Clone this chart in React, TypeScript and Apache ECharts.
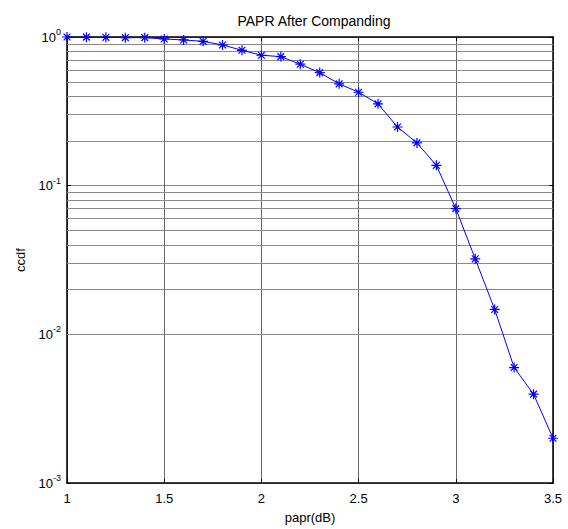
import React, { useEffect, useRef } from "react";
import * as echarts from "echarts";

const papr: number[] = [1.0, 1.1, 1.2, 1.3, 1.4, 1.5, 1.6, 1.7, 1.8, 1.9, 2.0, 2.1, 2.2, 2.3, 2.4, 2.5, 2.6, 2.7, 2.8, 2.9, 3.0, 3.1, 3.2, 3.3, 3.4, 3.5];
const ccdf: number[] = [1.0, 0.998, 0.995, 0.99, 0.99, 0.97, 0.955, 0.935, 0.884, 0.814, 0.754, 0.738, 0.656, 0.576, 0.484, 0.425, 0.355, 0.248, 0.194, 0.137, 0.0701, 0.0322, 0.0147, 0.00598, 0.00396, 0.002];
const decades: number[] = [-3, -2, -1];
const mantissas: number[] = [2, 3, 4, 5, 6, 7, 8, 9];

const FONT = "'Liberation Sans', Arial, Helvetica, sans-serif";
const ASTERISK = "path://M5,0L5,10M0,5L10,5M1.6,1.6L8.4,8.4M1.6,8.4L8.4,1.6";

export default function App() {
  const ref = useRef<HTMLDivElement>(null);
  useEffect(() => {
    if (!ref.current) return;
    const chart = echarts.init(ref.current, null, { renderer: "svg" });
    const minorLines: any[] = [];
    decades.forEach((e) => mantissas.forEach((m) => minorLines.push({ yAxis: m * Math.pow(10, e) })));
    const gridColor = "#8a8a8a";
    chart.setOption({
      animation: false,
      backgroundColor: "#fff",
      title: {
        text: "PAPR After Companding",
        left: 309,
        textAlign: "center",
        top: 9,
        textStyle: { fontFamily: FONT, fontSize: 14, fontWeight: "normal", color: "#000" },
      },
      grid: { left: 67, right: 15, top: 37, bottom: 45, containLabel: false },
      xAxis: [
        {
          type: "value",
          min: 1,
          max: 3.5,
          interval: 0.5,
          name: "papr(dB)",
          nameLocation: "middle",
          nameGap: 28,
          nameTextStyle: { fontFamily: FONT, fontSize: 13, color: "#000" },
          axisLine: { lineStyle: { color: "#000", width: 1.5 } },
          axisTick: { inside: true, length: 4, lineStyle: { color: "#000" } },
          axisLabel: { fontFamily: FONT, fontSize: 13, color: "#000", margin: 9 },
          splitLine: { show: true, lineStyle: { color: "#666", width: 1 } },
        },
        {
          type: "value",
          position: "top",
          min: 1,
          max: 3.5,
          interval: 0.5,
          axisLine: { lineStyle: { color: "#000", width: 1.5 } },
          axisTick: { inside: true, length: 4, lineStyle: { color: "#000" } },
          axisLabel: { show: false },
          splitLine: { show: false },
        },
      ],
      yAxis: [
        {
          type: "log",
          logBase: 10,
          min: 0.001,
          max: 1,
          name: "ccdf",
          nameLocation: "middle",
          nameGap: 40,
          nameTextStyle: { fontFamily: FONT, fontSize: 13, color: "#000" },
          axisLine: { lineStyle: { color: "#000", width: 1.5 } },
          axisTick: { inside: true, length: 4, lineStyle: { color: "#000" } },
          splitLine: { show: true, lineStyle: { color: gridColor, width: 1 } },
          axisLabel: {
            margin: 6,
            formatter: (v: number) => {
              const e = Math.round(Math.log10(v));
              return "{b|10}{s|" + e + "}";
            },
            rich: {
              b: { fontFamily: FONT, fontSize: 13, color: "#000" },
              s: { fontFamily: FONT, fontSize: 9, color: "#000", padding: [0, 0, 10, 0] },
            },
          },
        },
        {
          type: "log",
          logBase: 10,
          min: 0.001,
          max: 1,
          position: "right",
          axisLine: { lineStyle: { color: "#000", width: 1.5 } },
          axisTick: { inside: true, length: 4, lineStyle: { color: "#000" } },
          axisLabel: { show: false },
          splitLine: { show: false },
        },
      ],
      series: [
        {
          type: "line",
          data: papr.map((x, i) => [x, ccdf[i]]),
          xAxisIndex: 0,
          yAxisIndex: 0,
          symbol: ASTERISK,
          symbolSize: 10,
          symbolKeepAspect: true,
          showAllSymbol: true,
          lineStyle: { color: "#0000ff", width: 1 },
          itemStyle: { color: "#0000ff", borderColor: "#0000ff", borderWidth: 1.2 },
          markLine: {
            silent: true,
            symbol: "none",
            label: { show: false },
            lineStyle: { color: gridColor, width: 1, type: "solid" },
            data: minorLines,
            z: 1,
          },
          z: 3,
        },
      ],
    });
    return () => chart.dispose();
  }, []);
  return <div ref={ref} style={{ position: "fixed", left: 0, top: 0, width: 568, height: 529 }} />;
}
